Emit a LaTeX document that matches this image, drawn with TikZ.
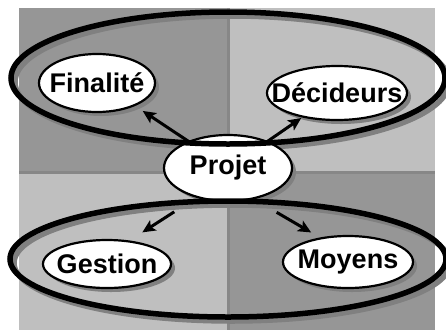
\documentclass[tikz,border=0pt]{standalone}
\usepackage{fontspec}
\setmainfont{Liberation Sans}
\usetikzlibrary{arrows.meta,shapes.geometric,shadows}
\definecolor{fonce}{gray}{0.59}
\definecolor{clair}{gray}{0.75}
\definecolor{trait}{gray}{0.53}
\definecolor{ombre}{gray}{0.5}
\tikzset{>={Stealth[length=13pt,width=12pt,inset=3pt]}}
\tikzset{bulle/.style={ellipse,draw,line width=2.2pt,fill=white,inner sep=0pt,
    font=\fontsize{27}{32}\selectfont\bfseries,
    drop shadow={shadow xshift=4pt,shadow yshift=-4pt,fill=ombre,opacity=1}},
  fleche/.style={->,line width=3pt},
  groupe/.style={line width=5.5pt}}
\newcommand*{\mot}[1]{\makebox[0pt]{#1}}

\begin{document}
\begin{tikzpicture}[x=1pt,y=-1pt]
\useasboundingbox (0,0) rectangle (446,330);
% fond en quatre cases
\fill[fonce] (19,8) rectangle (228,172);
\fill[clair] (228,8) rectangle (435,172);
\fill[clair] (19,172) rectangle (228,330);
\fill[fonce] (228,172) rectangle (435,330);
\draw[trait,line width=3pt] (228,8) -- (228,330) (19,172) -- (435,172);
% ombres des groupes
\draw[groupe,ombre] (232,82) ellipse (217 and 66);
\draw[groupe,ombre] (232,263) ellipse (218 and 58);
\node[bulle,minimum width=116pt,minimum height=58pt] (fin) at (97,83) {\mot{Finalité}};
\node[bulle,minimum width=140pt,minimum height=54pt] (dec) at (337,93) {\mot{Décideurs}};
\node[bulle,minimum width=128pt,minimum height=66pt] (pro) at (228,168) {\mot{Projet}};
\node[bulle,minimum width=128pt,minimum height=48pt] (ges) at (107,264) {\mot{Gestion}};
\node[bulle,minimum width=130pt,minimum height=52pt] (moy) at (348,262) {\mot{Moyens}};
\draw[fleche,shorten >=9pt] (pro.146) -- (fin.-31);
\draw[fleche,shorten >=1pt] (pro.34) -- (dec.-145);
\draw[fleche,shorten <=26pt,shorten >=15pt] (pro.-137) -- (ges.46);
\draw[fleche,shorten <=26pt,shorten >=10pt] (pro.-50) -- (moy.139);
% les deux groupes
\draw[groupe] (228,78) ellipse (217 and 66);
\draw[groupe] (228,259) ellipse (218 and 58);
\end{tikzpicture}
\end{document}
